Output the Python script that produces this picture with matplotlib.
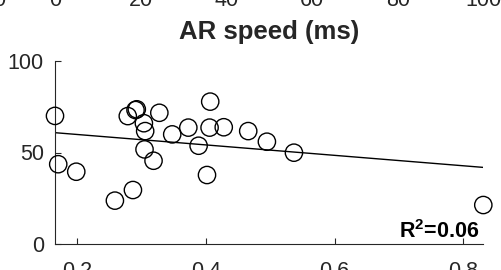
import numpy as np
import matplotlib
matplotlib.use("Agg")
import matplotlib.pyplot as plt
from matplotlib import transforms

plt.rcParams['font.family'] = ['Liberation Sans', 'DejaVu Sans']
plt.rcParams['mathtext.fontset'] = 'custom'
plt.rcParams['mathtext.rm'] = 'Liberation Sans:bold'
plt.rcParams['mathtext.bf'] = 'Liberation Sans:bold'

# data (AR speed vs. score)
ar_speed = [0.166, 0.171, 0.199, 0.259, 0.287, 0.279, 0.293, 0.291, 0.304, 0.306,
            0.305, 0.319, 0.328, 0.348, 0.373, 0.389, 0.402, 0.407, 0.406, 0.428,
            0.466, 0.495, 0.537, 0.831]
score = [70.0, 43.6, 39.5, 23.7, 29.5, 69.9, 73.6, 73.2, 66.0, 61.7,
         51.7, 45.5, 71.7, 59.9, 63.6, 53.7, 37.7, 77.8, 63.6, 63.8,
         61.7, 55.9, 49.9, 21.3]
x_ticks = [0.2, 0.4, 0.6, 0.8]
y_ticks = [0, 50, 100]
top_ticks = [0, 20, 40, 60, 80, 100]
title = "AR speed (ms)"
r2_label = r"R$^{\mathbf{2}}$=0.06"

W, H = 501, 270
fig = plt.figure(figsize=(W / 100, H / 100), dpi=100)
L, R, B, T = 55, 483.3, 244, 61
ax = fig.add_axes([L / W, (H - B) / H, (R - L) / W, (B - T) / H])

gray = '#262626'
x = np.array(ar_speed)
y = np.array(score)
ax.scatter(x, y, s=155, facecolors='none', edgecolors='black', linewidths=1.0,
           zorder=3, clip_on=False)
k, b = np.polyfit(x, y, 1)
xl = np.array([x.min(), x.max()])
ax.plot(xl, k * xl + b, color='black', lw=1.0, zorder=2)

ax.set_xlim(x.min(), x.max())
ax.set_ylim(0, 100)
ax.set_xticks(x_ticks)
ax.set_xticklabels([f"{v:g}" for v in x_ticks])
ax.set_yticks(y_ticks)
for s in ['top', 'right']:
    ax.spines[s].set_visible(False)
for s in ['left', 'bottom']:
    ax.spines[s].set_color(gray)
    ax.spines[s].set_linewidth(0.8)
ax.tick_params(direction='in', length=4, width=0.8, colors=gray,
               labelsize=15.5, labelcolor=gray)
ax.tick_params(axis='x', pad=12)
ax.tick_params(axis='y', pad=8)

ax.set_title(title, fontsize=18.5, fontweight='bold', color=gray, pad=16)

ax.text(0.99, 0.035, r2_label, transform=ax.transAxes, ha='right', va='baseline',
        fontsize=15.5, fontweight='bold', color='black')

# partially visible tick labels of the panel above
ax_top = fig.add_axes([L / W, 1.2, (R - L) / W, 0.01])
ax_top.set_xlim(0, 100)
ax_top.axis('off')
tr = transforms.blended_transform_factory(ax_top.transData, fig.transFigure)
ty = 1 - 6 / H
for v in top_ticks:
    fig.text(v, ty, f"{v}", transform=tr, ha='center', va='baseline',
             fontsize=15.5, color=gray)
fig.text(-13, ty, "0", transform=tr, ha='center', va='baseline', fontsize=15.5, color=gray)

fig.savefig("out.png", dpi=100)
